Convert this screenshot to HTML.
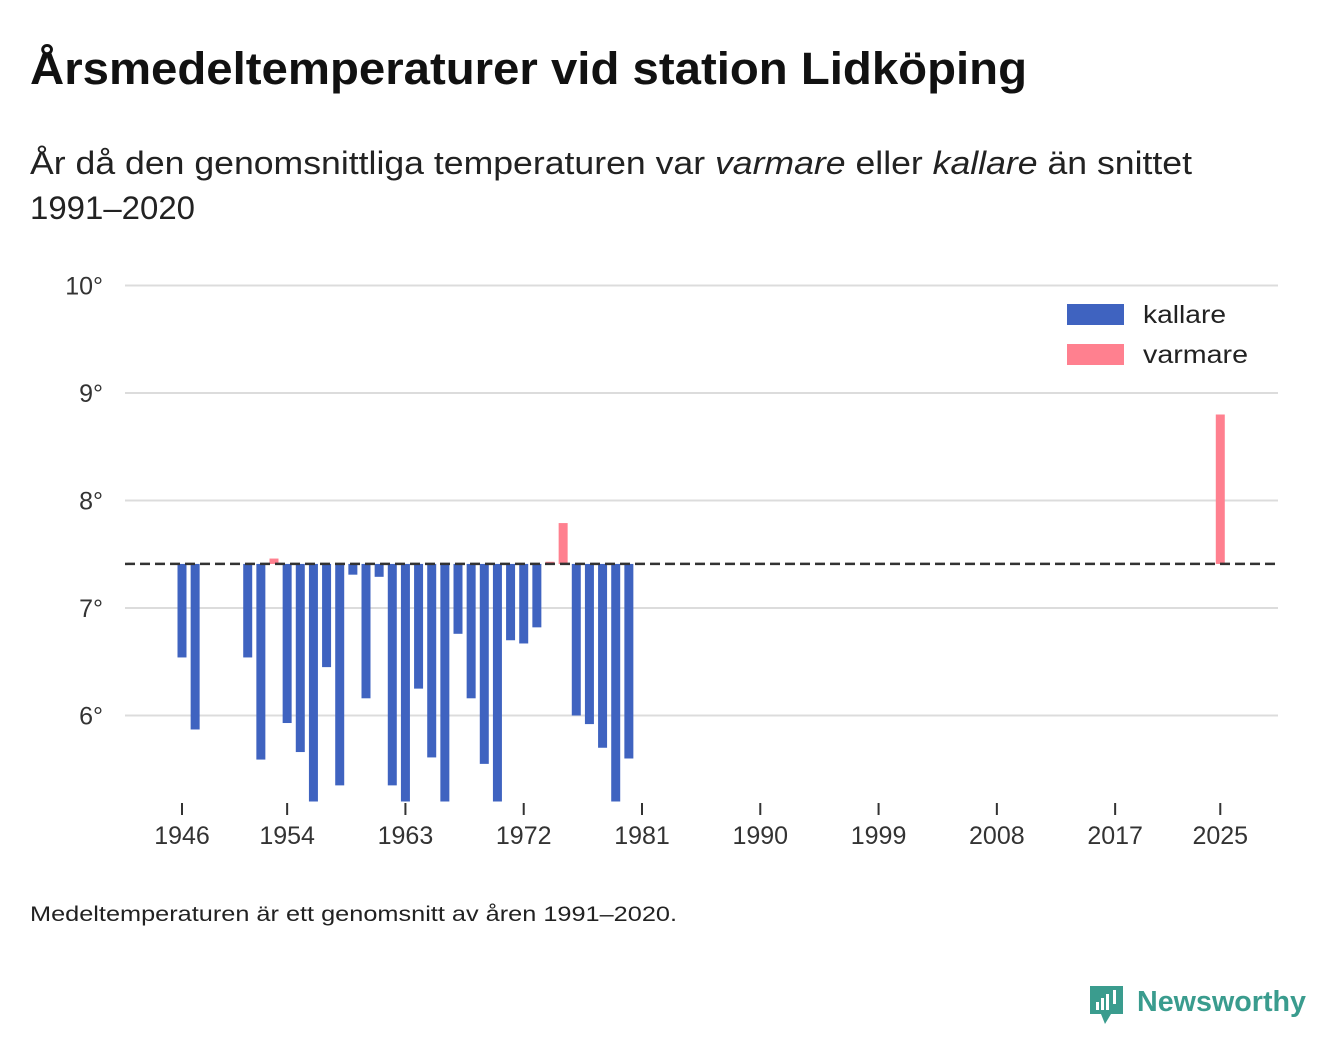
<!DOCTYPE html>
<html><head><meta charset="utf-8"><style>
body{margin:0;background:#fff;font-family:"Liberation Sans","DejaVu Sans",sans-serif;}
svg{display:block}
</style></head><body>
<svg width="1340" height="1056" id="chart">
<text x="30" y="84" font-size="45" font-weight="bold" fill="#111" textLength="997" lengthAdjust="spacingAndGlyphs">Årsmedeltemperaturer vid station Lidköping</text>
<text x="30" y="174" font-size="32" fill="#222" textLength="1162" lengthAdjust="spacingAndGlyphs">År då den genomsnittliga temperaturen var <tspan font-style="italic">varmare</tspan> eller <tspan font-style="italic">kallare</tspan> än snittet</text>
<text x="30" y="219" font-size="32" fill="#222" textLength="165" lengthAdjust="spacingAndGlyphs">1991–2020</text>
<g id="grid"></g><g id="bars"></g><g id="xaxis"></g>
<g>
<rect x="1067" y="304" width="57" height="21" fill="#3f63c0"/>
<text x="1143" y="323" font-size="25" fill="#222" textLength="83" lengthAdjust="spacingAndGlyphs">kallare</text>
<rect x="1067" y="344" width="57" height="21" fill="#ff808f"/>
<text x="1143" y="363" font-size="25" fill="#222" textLength="105" lengthAdjust="spacingAndGlyphs">varmare</text>
</g>
<text x="30" y="921" font-size="21" fill="#222" textLength="647" lengthAdjust="spacingAndGlyphs">Medeltemperaturen är ett genomsnitt av åren 1991–2020.</text>
<g>
<path d="M1090 986h33v28h-12l-6 10-4-10h-11z" fill="#3a9c8e"/>
<rect x="1096" y="1002" width="3" height="8" fill="#fff"/><rect x="1101" y="998" width="3" height="12" fill="#fff"/><rect x="1106" y="994" width="3" height="16" fill="#fff"/><rect x="1113" y="990" width="3" height="14" fill="#fff"/>
<text x="1137" y="1011" font-size="29" font-weight="bold" fill="#3a9c8e" textLength="169" lengthAdjust="spacingAndGlyphs">Newsworthy</text>
</g>
</svg>
<script>
const years=[1946,1947,1951,1952,1953,1954,1955,1956,1957,1958,1959,1960,1961,1962,1963,1964,1965,1966,1967,1968,1969,1970,1971,1972,1973,1974,1975,1976,1977,1978,1979,1980,2025];
const temps=[6.54,5.87,6.54,5.59,7.46,5.93,5.66,5.2,6.45,5.35,7.31,6.16,7.29,5.35,5.2,6.25,5.61,5.2,6.76,6.16,5.55,5.2,6.70,6.67,6.82,7.43,7.79,6.0,5.92,5.70,5.2,5.60,8.80];
const baseline=7.41;
const yTicks=[6,7,8,9,10];
const xTicks=[1946,1954,1963,1972,1981,1990,1999,2008,2017,2025];
const NS="http://www.w3.org/2000/svg";
const x=v=>182+(v-1946)*(460/35);
const y=v=>608-(v-7)*107.5;
function mk(t,a,p){const e=document.createElementNS(NS,t);for(const k in a)e.setAttribute(k,a[k]);p.appendChild(e);return e;}
const g=document.getElementById('grid'),b=document.getElementById('bars'),xa=document.getElementById('xaxis');
yTicks.forEach(t=>{
 const l=mk('line',{x1:125,x2:1278,y1:y(t),y2:y(t),stroke:'#dcdcdc','stroke-width':2},g);
 
 
 const tx=mk('text',{x:103,y:y(t)+9,'font-size':25,fill:'#333','text-anchor':'end'},g);
 tx.textContent=t+'°';
 
 
});
years.forEach((yr,i)=>{
 const v=temps[i],warm=v>baseline;
 const top=Math.min(y(v),y(baseline)),h=Math.abs(y(v)-y(baseline));
 const r=mk('rect',{x:x(yr)-4.5,y:top,width:9,height:Math.max(h,1),fill:warm?'#ff808f':'#3f63c0'},b);
 
 
});
const bl=mk('line',{x1:125,x2:1278,y1:y(baseline),y2:y(baseline),stroke:'#333','stroke-width':2.5,'stroke-dasharray':'10,5'},b);


xTicks.forEach(t=>{
 const l=mk('line',{x1:x(t),x2:x(t),y1:803,y2:815,stroke:'#333','stroke-width':2},xa);
 
 
 const tx=mk('text',{x:x(t),y:844,'font-size':25,fill:'#333','text-anchor':'middle'},xa);
 tx.textContent=t;
 
 
});
</script>
</body></html>
